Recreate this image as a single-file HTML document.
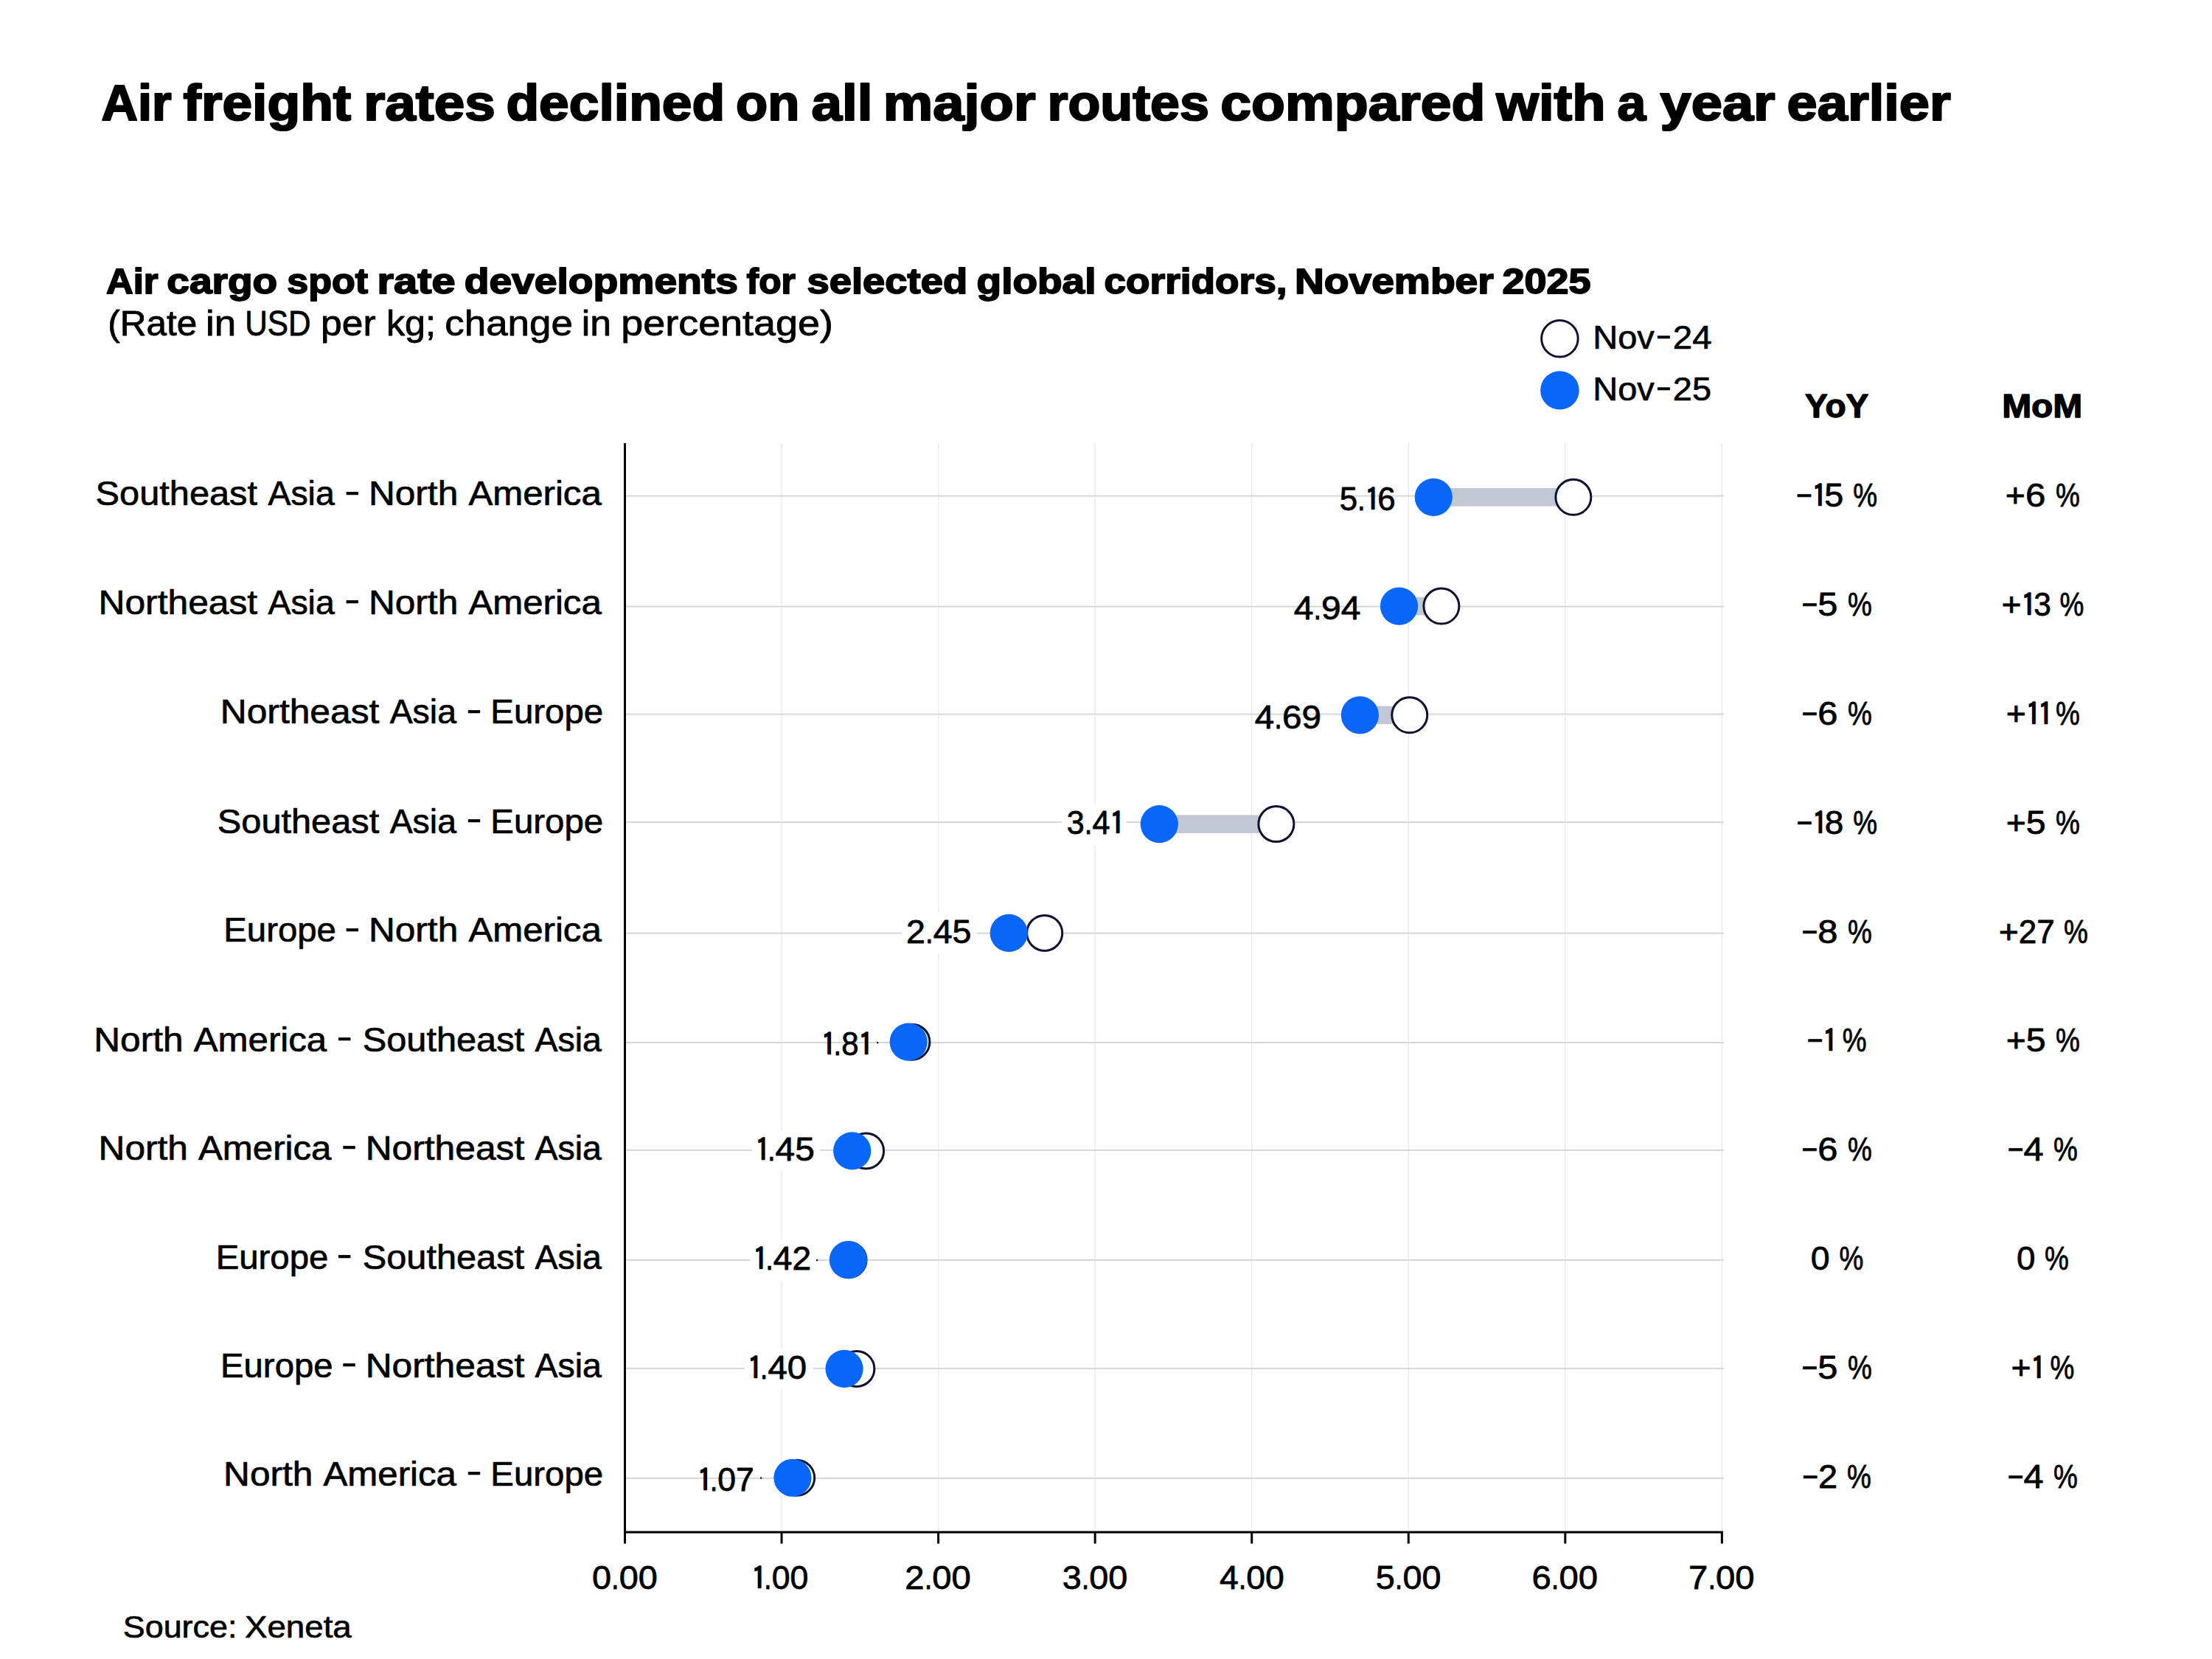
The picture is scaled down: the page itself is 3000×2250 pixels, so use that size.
<!DOCTYPE html>
<html lang="en">
<head>
<meta charset="utf-8">
<title>Air freight rates declined on all major routes compared with a year earlier</title>
<style>
html,body{margin:0;padding:0;background:#fff;}
body{width:3000px;height:2250px;overflow:hidden;}
svg{display:block;font-family:"Liberation Sans",Arial,sans-serif;}
</style>
</head>
<body>
<svg width="3000" height="2250" viewBox="0 0 3000 2250">
<rect width="3000" height="2250" fill="#fff"/>
<text y="162.70" font-size="68" font-weight="700" fill="#000" stroke="#000" stroke-width="2.2" stroke-linejoin="round"><tspan x="137.63" textLength="95.14" lengthAdjust="spacingAndGlyphs">Air</tspan> <tspan x="248.56" textLength="227.70" lengthAdjust="spacingAndGlyphs">freight</tspan> <tspan x="493.23" textLength="178.60" lengthAdjust="spacingAndGlyphs">rates</tspan> <tspan x="686.41" textLength="296.87" lengthAdjust="spacingAndGlyphs">declined</tspan> <tspan x="998.09" textLength="86.32" lengthAdjust="spacingAndGlyphs">on</tspan> <tspan x="1100.43" textLength="82.98" lengthAdjust="spacingAndGlyphs">all</tspan> <tspan x="1197.76" textLength="206.72" lengthAdjust="spacingAndGlyphs">major</tspan> <tspan x="1420.51" textLength="219.50" lengthAdjust="spacingAndGlyphs">routes</tspan> <tspan x="1655.35" textLength="359.05" lengthAdjust="spacingAndGlyphs">compared</tspan> <tspan x="2029.36" textLength="148.12" lengthAdjust="spacingAndGlyphs">with</tspan> <tspan x="2193.51" textLength="38.75" lengthAdjust="spacingAndGlyphs">a</tspan> <tspan x="2251.60" textLength="155.97" lengthAdjust="spacingAndGlyphs">year</tspan> <tspan x="2423.59" textLength="222.16" lengthAdjust="spacingAndGlyphs">earlier</tspan></text>
<text y="398.30" font-size="48.5" font-weight="700" fill="#000" stroke="#000" stroke-width="1.8" stroke-linejoin="round"><tspan x="144.11" textLength="70.51" lengthAdjust="spacingAndGlyphs">Air</tspan> <tspan x="226.38" textLength="149.82" lengthAdjust="spacingAndGlyphs">cargo</tspan> <tspan x="389.28" textLength="109.68" lengthAdjust="spacingAndGlyphs">spot</tspan> <tspan x="511.59" textLength="105.95" lengthAdjust="spacingAndGlyphs">rate</tspan> <tspan x="629.67" textLength="371.26" lengthAdjust="spacingAndGlyphs">developments</tspan> <tspan x="1012.62" textLength="66.18" lengthAdjust="spacingAndGlyphs">for</tspan> <tspan x="1094.50" textLength="217.68" lengthAdjust="spacingAndGlyphs">selected</tspan> <tspan x="1324.58" textLength="161.87" lengthAdjust="spacingAndGlyphs">global</tspan> <tspan x="1497.44" textLength="248.10" lengthAdjust="spacingAndGlyphs">corridors,</tspan> <tspan x="1755.95" textLength="269.83" lengthAdjust="spacingAndGlyphs">November</tspan> <tspan x="2037.62" textLength="119.82" lengthAdjust="spacingAndGlyphs">2025</tspan></text>
<text y="454.60" font-size="47.5" fill="#000" stroke="#000" stroke-width="0.8" stroke-linejoin="round"><tspan x="146.18" textLength="121.03" lengthAdjust="spacingAndGlyphs">(Rate</tspan> <tspan x="278.99" textLength="41.18" lengthAdjust="spacingAndGlyphs">in</tspan> <tspan x="332.36" textLength="89.21" lengthAdjust="spacingAndGlyphs">USD</tspan> <tspan x="435.08" textLength="74.47" lengthAdjust="spacingAndGlyphs">per</tspan> <tspan x="523.96" textLength="67.10" lengthAdjust="spacingAndGlyphs">kg;</tspan> <tspan x="603.25" textLength="173.70" lengthAdjust="spacingAndGlyphs">change</tspan> <tspan x="788.86" textLength="40.35" lengthAdjust="spacingAndGlyphs">in</tspan> <tspan x="842.33" textLength="287.56" lengthAdjust="spacingAndGlyphs">percentage)</tspan></text>
<circle cx="2115.4" cy="459.3" r="24.75" fill="#fff" stroke="#0e1230" stroke-width="3"/>
<circle cx="2115.4" cy="529.4" r="26.2" fill="#0866fb"/>
<text y="473.00" font-size="45" fill="#000" stroke="#000" stroke-width="0.7" stroke-linejoin="round"><tspan x="2160.38" textLength="83.47" lengthAdjust="spacingAndGlyphs">Nov</tspan><tspan x="2245.50" dy="-4.5" textLength="21.81" lengthAdjust="spacingAndGlyphs">-</tspan><tspan x="2268.82" dy="4.5" textLength="52.91" lengthAdjust="spacingAndGlyphs">24</tspan></text>
<text y="543.00" font-size="45" fill="#000" stroke="#000" stroke-width="0.7" stroke-linejoin="round"><tspan x="2160.38" textLength="83.47" lengthAdjust="spacingAndGlyphs">Nov</tspan><tspan x="2245.50" dy="-4.5" textLength="21.81" lengthAdjust="spacingAndGlyphs">-</tspan><tspan x="2268.85" dy="4.5" textLength="52.20" lengthAdjust="spacingAndGlyphs">25</tspan></text>
<text x="2448.13" y="565.70" font-size="43.5" font-weight="700" fill="#000" stroke="#000" stroke-width="1.3" stroke-linejoin="round" textLength="86.11" lengthAdjust="spacingAndGlyphs">YoY</text>
<text x="2715.15" y="565.70" font-size="43.5" font-weight="700" fill="#000" stroke="#000" stroke-width="1.3" stroke-linejoin="round" textLength="109.18" lengthAdjust="spacingAndGlyphs">MoM</text>
<rect x="1059.40" y="601" width="1.3" height="1477" fill="#e7e9eb"/>
<rect x="1271.95" y="601" width="1.3" height="1477" fill="#e7e9eb"/>
<rect x="1484.50" y="601" width="1.3" height="1477" fill="#e7e9eb"/>
<rect x="1697.05" y="601" width="1.3" height="1477" fill="#e7e9eb"/>
<rect x="1909.60" y="601" width="1.3" height="1477" fill="#e7e9eb"/>
<rect x="2122.15" y="601" width="1.3" height="1477" fill="#e7e9eb"/>
<rect x="2334.70" y="601" width="1.3" height="1477" fill="#e7e9eb"/>
<rect x="848" y="671.60" width="1490" height="2" fill="#d6d6d6"/>
<rect x="848" y="821.60" width="1490" height="2" fill="#d6d6d6"/>
<rect x="848" y="967.60" width="1490" height="2" fill="#d6d6d6"/>
<rect x="848" y="1114.10" width="1490" height="2" fill="#d6d6d6"/>
<rect x="848" y="1264.60" width="1490" height="2" fill="#d6d6d6"/>
<rect x="848" y="1413.00" width="1490" height="2" fill="#d6d6d6"/>
<rect x="848" y="1558.90" width="1490" height="2" fill="#d6d6d6"/>
<rect x="848" y="1707.90" width="1490" height="2" fill="#d6d6d6"/>
<rect x="848" y="1854.90" width="1490" height="2" fill="#d6d6d6"/>
<rect x="848" y="2003.80" width="1490" height="2" fill="#d6d6d6"/>
<rect x="1439.8" y="1091.1" width="87.9" height="55" fill="#fff"/>
<rect x="1222.9" y="1238.9" width="102.1" height="55" fill="#fff"/>
<rect x="1019.8" y="1533.7" width="92.5" height="55" fill="#fff"/>
<rect x="1017.0" y="1681.7" width="90.7" height="55" fill="#fff"/>
<rect x="1009.6" y="1829.5" width="92.7" height="55" fill="#fff"/>
<rect x="846" y="601" width="3" height="1492.5" fill="#000"/>
<rect x="846" y="2076.5" width="1491" height="3" fill="#000"/>
<rect x="1058.55" y="2078" width="3" height="15.5" fill="#000"/>
<rect x="1271.10" y="2078" width="3" height="15.5" fill="#000"/>
<rect x="1483.65" y="2078" width="3" height="15.5" fill="#000"/>
<rect x="1696.20" y="2078" width="3" height="15.5" fill="#000"/>
<rect x="1908.75" y="2078" width="3" height="15.5" fill="#000"/>
<rect x="2121.30" y="2078" width="3" height="15.5" fill="#000"/>
<rect x="2333.85" y="2078" width="3" height="15.5" fill="#000"/>
<rect x="1189" y="1413" width="2.2" height="2.2" fill="#111"/>
<rect x="1107" y="1708" width="2.2" height="2.2" fill="#111"/>
<rect x="1031" y="2003.5" width="2.2" height="2.2" fill="#111"/>
<text y="685.40" font-size="46" fill="#000" stroke="#000" stroke-width="0.7" stroke-linejoin="round"><tspan x="129.63" textLength="219.36" lengthAdjust="spacingAndGlyphs">Southeast</tspan> <tspan x="363.45" textLength="90.31" lengthAdjust="spacingAndGlyphs">Asia</tspan> <tspan x="467.37" dy="-3.6" textLength="21.06" lengthAdjust="spacingAndGlyphs">-</tspan> <tspan x="499.98" dy="3.6" textLength="121.26" lengthAdjust="spacingAndGlyphs">North</tspan> <tspan x="635.45" textLength="180.39" lengthAdjust="spacingAndGlyphs">America</tspan></text>
<rect x="1944.26" y="662.00" width="189.59" height="24.6" fill="#c2c8d3"/>
<circle cx="2133.85" cy="674.30" r="24.0" fill="#fff" stroke="#0e1230" stroke-width="3"/>
<circle cx="1944.26" cy="674.30" r="25.6" fill="#0866fb"/>
<text y="691.60" font-size="45" fill="#000" stroke="#000" stroke-width="0.8" stroke-linejoin="round"><tspan x="1816.73" textLength="24.36" lengthAdjust="spacingAndGlyphs">5</tspan><tspan x="1841.09" textLength="10.63" lengthAdjust="spacingAndGlyphs">.</tspan><tspan x="1851.11" dy="1" font-family="IPAGothic,'Liberation Sans',sans-serif" font-size="42.0" stroke-width="1.4">1</tspan><tspan x="1868.22" dy="-1" textLength="24.36" lengthAdjust="spacingAndGlyphs">6</tspan></text>
<text y="687.10" font-size="45" fill="#000" stroke="#000" stroke-width="0.8" stroke-linejoin="round"><tspan x="2435.95" textLength="21.81" lengthAdjust="spacingAndGlyphs">−</tspan><tspan x="2457.15" dy="1" font-family="IPAGothic,'Liberation Sans',sans-serif" font-size="42.0" stroke-width="1.4">1</tspan><tspan x="2474.26" dy="-1" textLength="38.93" lengthAdjust="spacingAndGlyphs">5 </tspan><tspan x="2513.19" textLength="32.81" lengthAdjust="spacingAndGlyphs">%</tspan></text>
<text y="687.10" font-size="45" fill="#000" stroke="#000" stroke-width="0.8" stroke-linejoin="round"><tspan x="2719.83" textLength="27.07" lengthAdjust="spacingAndGlyphs">+</tspan><tspan x="2746.90" textLength="40.99" lengthAdjust="spacingAndGlyphs">6 </tspan><tspan x="2787.89" textLength="32.81" lengthAdjust="spacingAndGlyphs">%</tspan></text>
<text y="832.60" font-size="46" fill="#000" stroke="#000" stroke-width="0.7" stroke-linejoin="round"><tspan x="133.56" textLength="215.62" lengthAdjust="spacingAndGlyphs">Northeast</tspan> <tspan x="363.45" textLength="90.31" lengthAdjust="spacingAndGlyphs">Asia</tspan> <tspan x="467.37" dy="-3.6" textLength="21.06" lengthAdjust="spacingAndGlyphs">-</tspan> <tspan x="499.98" dy="3.6" textLength="121.26" lengthAdjust="spacingAndGlyphs">North</tspan> <tspan x="635.45" textLength="180.39" lengthAdjust="spacingAndGlyphs">America</tspan></text>
<rect x="1897.50" y="809.77" width="57.39" height="24.6" fill="#c2c8d3"/>
<circle cx="1954.89" cy="822.07" r="24.0" fill="#fff" stroke="#0e1230" stroke-width="3"/>
<circle cx="1897.50" cy="822.07" r="25.6" fill="#0866fb"/>
<text y="839.90" font-size="45" fill="#000" stroke="#000" stroke-width="0.8" stroke-linejoin="round"><tspan x="1754.75" textLength="26.67" lengthAdjust="spacingAndGlyphs">4</tspan><tspan x="1781.42" textLength="10.63" lengthAdjust="spacingAndGlyphs">.</tspan><tspan x="1792.05" textLength="53.34" lengthAdjust="spacingAndGlyphs">94</tspan></text>
<text y="834.96" font-size="45" fill="#000" stroke="#000" stroke-width="0.8" stroke-linejoin="round"><tspan x="2443.45" textLength="21.81" lengthAdjust="spacingAndGlyphs">−</tspan><tspan x="2465.26" textLength="40.63" lengthAdjust="spacingAndGlyphs">5 </tspan><tspan x="2505.89" textLength="32.81" lengthAdjust="spacingAndGlyphs">%</tspan></text>
<text y="834.96" font-size="45" fill="#000" stroke="#000" stroke-width="0.8" stroke-linejoin="round"><tspan x="2714.63" textLength="27.07" lengthAdjust="spacingAndGlyphs">+</tspan><tspan x="2741.09" dy="1" font-family="IPAGothic,'Liberation Sans',sans-serif" font-size="42.0" stroke-width="1.4">1</tspan><tspan x="2758.20" dy="-1" textLength="35.29" lengthAdjust="spacingAndGlyphs">3 </tspan><tspan x="2793.49" textLength="32.81" lengthAdjust="spacingAndGlyphs">%</tspan></text>
<text y="981.40" font-size="46" fill="#000" stroke="#000" stroke-width="0.7" stroke-linejoin="round"><tspan x="298.76" textLength="215.62" lengthAdjust="spacingAndGlyphs">Northeast</tspan> <tspan x="528.65" textLength="90.31" lengthAdjust="spacingAndGlyphs">Asia</tspan> <tspan x="632.57" dy="-3.6" textLength="21.06" lengthAdjust="spacingAndGlyphs">-</tspan> <tspan x="665.35" dy="3.6" textLength="152.72" lengthAdjust="spacingAndGlyphs">Europe</tspan></text>
<rect x="1844.36" y="957.54" width="67.38" height="24.6" fill="#c2c8d3"/>
<circle cx="1911.74" cy="969.84" r="24.0" fill="#fff" stroke="#0e1230" stroke-width="3"/>
<circle cx="1844.36" cy="969.84" r="25.6" fill="#0866fb"/>
<text y="987.50" font-size="45" fill="#000" stroke="#000" stroke-width="0.8" stroke-linejoin="round"><tspan x="1701.86" textLength="26.48" lengthAdjust="spacingAndGlyphs">4</tspan><tspan x="1728.34" textLength="10.63" lengthAdjust="spacingAndGlyphs">.</tspan><tspan x="1738.97" textLength="52.96" lengthAdjust="spacingAndGlyphs">69</tspan></text>
<text y="982.82" font-size="45" fill="#000" stroke="#000" stroke-width="0.8" stroke-linejoin="round"><tspan x="2443.45" textLength="21.81" lengthAdjust="spacingAndGlyphs">−</tspan><tspan x="2465.26" textLength="40.73" lengthAdjust="spacingAndGlyphs">6 </tspan><tspan x="2505.99" textLength="32.81" lengthAdjust="spacingAndGlyphs">%</tspan></text>
<text y="982.82" font-size="45" fill="#000" stroke="#000" stroke-width="0.8" stroke-linejoin="round"><tspan x="2720.73" textLength="27.07" lengthAdjust="spacingAndGlyphs">+</tspan><tspan x="2747.19" dy="1" font-family="IPAGothic,'Liberation Sans',sans-serif" font-size="42.0" stroke-width="1.4">1</tspan><tspan x="2763.69" font-family="IPAGothic,'Liberation Sans',sans-serif" font-size="42.0" stroke-width="1.4">1</tspan><tspan x="2780.80" dy="-1" textLength="7.29" lengthAdjust="spacingAndGlyphs"> </tspan><tspan x="2788.09" textLength="32.81" lengthAdjust="spacingAndGlyphs">%</tspan></text>
<text y="1129.60" font-size="46" fill="#000" stroke="#000" stroke-width="0.7" stroke-linejoin="round"><tspan x="294.83" textLength="219.36" lengthAdjust="spacingAndGlyphs">Southeast</tspan> <tspan x="528.65" textLength="90.31" lengthAdjust="spacingAndGlyphs">Asia</tspan> <tspan x="632.57" dy="-3.6" textLength="21.06" lengthAdjust="spacingAndGlyphs">-</tspan> <tspan x="665.35" dy="3.6" textLength="152.72" lengthAdjust="spacingAndGlyphs">Europe</tspan></text>
<rect x="1572.30" y="1105.31" width="158.56" height="24.6" fill="#c2c8d3"/>
<circle cx="1730.86" cy="1117.61" r="24.0" fill="#fff" stroke="#0e1230" stroke-width="3"/>
<circle cx="1572.30" cy="1117.61" r="25.6" fill="#0866fb"/>
<text y="1131.10" font-size="45" fill="#000" stroke="#000" stroke-width="0.8" stroke-linejoin="round"><tspan x="1446.85" textLength="24.00" lengthAdjust="spacingAndGlyphs">3</tspan><tspan x="1470.85" textLength="10.63" lengthAdjust="spacingAndGlyphs">.</tspan><tspan x="1481.48" textLength="24.00" lengthAdjust="spacingAndGlyphs">4</tspan><tspan x="1504.88" dy="1" font-family="IPAGothic,'Liberation Sans',sans-serif" font-size="42.0" stroke-width="1.4">1</tspan></text>
<text y="1130.68" font-size="45" fill="#000" stroke="#000" stroke-width="0.8" stroke-linejoin="round"><tspan x="2436.55" textLength="21.81" lengthAdjust="spacingAndGlyphs">−</tspan><tspan x="2457.75" dy="1" font-family="IPAGothic,'Liberation Sans',sans-serif" font-size="42.0" stroke-width="1.4">1</tspan><tspan x="2474.86" dy="-1" textLength="38.33" lengthAdjust="spacingAndGlyphs">8 </tspan><tspan x="2513.19" textLength="32.81" lengthAdjust="spacingAndGlyphs">%</tspan></text>
<text y="1130.68" font-size="45" fill="#000" stroke="#000" stroke-width="0.8" stroke-linejoin="round"><tspan x="2720.73" textLength="27.07" lengthAdjust="spacingAndGlyphs">+</tspan><tspan x="2747.80" textLength="40.29" lengthAdjust="spacingAndGlyphs">5 </tspan><tspan x="2788.09" textLength="32.81" lengthAdjust="spacingAndGlyphs">%</tspan></text>
<text y="1277.40" font-size="46" fill="#000" stroke="#000" stroke-width="0.7" stroke-linejoin="round"><tspan x="303.25" textLength="152.72" lengthAdjust="spacingAndGlyphs">Europe</tspan> <tspan x="467.37" dy="-3.6" textLength="21.06" lengthAdjust="spacingAndGlyphs">-</tspan> <tspan x="499.98" dy="3.6" textLength="121.26" lengthAdjust="spacingAndGlyphs">North</tspan> <tspan x="635.45" textLength="180.39" lengthAdjust="spacingAndGlyphs">America</tspan></text>
<circle cx="1416.71" cy="1265.38" r="24.0" fill="#fff" stroke="#0e1230" stroke-width="3"/>
<circle cx="1368.25" cy="1265.38" r="25.6" fill="#0866fb"/>
<text y="1278.90" font-size="45" fill="#000" stroke="#000" stroke-width="0.8" stroke-linejoin="round"><tspan x="1229.12" textLength="25.92" lengthAdjust="spacingAndGlyphs">2</tspan><tspan x="1255.03" textLength="10.63" lengthAdjust="spacingAndGlyphs">.</tspan><tspan x="1265.66" textLength="51.83" lengthAdjust="spacingAndGlyphs">45</tspan></text>
<text y="1278.54" font-size="45" fill="#000" stroke="#000" stroke-width="0.8" stroke-linejoin="round"><tspan x="2443.45" textLength="21.81" lengthAdjust="spacingAndGlyphs">−</tspan><tspan x="2465.26" textLength="40.73" lengthAdjust="spacingAndGlyphs">8 </tspan><tspan x="2505.99" textLength="32.81" lengthAdjust="spacingAndGlyphs">%</tspan></text>
<text y="1278.54" font-size="45" fill="#000" stroke="#000" stroke-width="0.8" stroke-linejoin="round"><tspan x="2710.63" textLength="27.07" lengthAdjust="spacingAndGlyphs">+</tspan><tspan x="2737.70" textLength="61.19" lengthAdjust="spacingAndGlyphs">27 </tspan><tspan x="2798.89" textLength="32.81" lengthAdjust="spacingAndGlyphs">%</tspan></text>
<text y="1425.50" font-size="46" fill="#000" stroke="#000" stroke-width="0.7" stroke-linejoin="round"><tspan x="127.28" textLength="121.26" lengthAdjust="spacingAndGlyphs">North</tspan> <tspan x="262.75" textLength="180.39" lengthAdjust="spacingAndGlyphs">America</tspan> <tspan x="456.77" dy="-3.6" textLength="21.06" lengthAdjust="spacingAndGlyphs">-</tspan> <tspan x="491.73" dy="3.6" textLength="219.36" lengthAdjust="spacingAndGlyphs">Southeast</tspan> <tspan x="725.55" textLength="90.31" lengthAdjust="spacingAndGlyphs">Asia</tspan></text>
<circle cx="1236.89" cy="1413.15" r="24.0" fill="#fff" stroke="#0e1230" stroke-width="3"/>
<circle cx="1232.22" cy="1413.15" r="25.6" fill="#0866fb"/>
<text y="1430.80" font-size="45" fill="#000" stroke="#000" stroke-width="0.8" stroke-linejoin="round"><tspan x="1113.41" dy="1" font-family="IPAGothic,'Liberation Sans',sans-serif" font-size="42.0" stroke-width="1.4">1</tspan><tspan x="1130.52" dy="-1" textLength="10.63" lengthAdjust="spacingAndGlyphs">.</tspan><tspan x="1141.14" textLength="23.34" lengthAdjust="spacingAndGlyphs">8</tspan><tspan x="1163.88" dy="1" font-family="IPAGothic,'Liberation Sans',sans-serif" font-size="42.0" stroke-width="1.4">1</tspan></text>
<text y="1426.40" font-size="45" fill="#000" stroke="#000" stroke-width="0.8" stroke-linejoin="round"><tspan x="2450.65" textLength="21.81" lengthAdjust="spacingAndGlyphs">−</tspan><tspan x="2471.85" dy="1" font-family="IPAGothic,'Liberation Sans',sans-serif" font-size="42.0" stroke-width="1.4">1</tspan><tspan x="2488.96" dy="-1" textLength="9.73" lengthAdjust="spacingAndGlyphs"> </tspan><tspan x="2498.69" textLength="32.81" lengthAdjust="spacingAndGlyphs">%</tspan></text>
<text y="1426.40" font-size="45" fill="#000" stroke="#000" stroke-width="0.8" stroke-linejoin="round"><tspan x="2720.73" textLength="27.07" lengthAdjust="spacingAndGlyphs">+</tspan><tspan x="2747.80" textLength="40.29" lengthAdjust="spacingAndGlyphs">5 </tspan><tspan x="2788.09" textLength="32.81" lengthAdjust="spacingAndGlyphs">%</tspan></text>
<text y="1572.60" font-size="46" fill="#000" stroke="#000" stroke-width="0.7" stroke-linejoin="round"><tspan x="133.58" textLength="121.26" lengthAdjust="spacingAndGlyphs">North</tspan> <tspan x="269.05" textLength="180.39" lengthAdjust="spacingAndGlyphs">America</tspan> <tspan x="463.07" dy="-3.6" textLength="21.06" lengthAdjust="spacingAndGlyphs">-</tspan> <tspan x="495.66" dy="3.6" textLength="215.62" lengthAdjust="spacingAndGlyphs">Northeast</tspan> <tspan x="725.55" textLength="90.31" lengthAdjust="spacingAndGlyphs">Asia</tspan></text>
<circle cx="1174.61" cy="1560.92" r="24.0" fill="#fff" stroke="#0e1230" stroke-width="3"/>
<circle cx="1155.70" cy="1560.92" r="25.6" fill="#0866fb"/>
<text y="1573.70" font-size="45" fill="#000" stroke="#000" stroke-width="0.8" stroke-linejoin="round"><tspan x="1023.91" dy="1" font-family="IPAGothic,'Liberation Sans',sans-serif" font-size="42.0" stroke-width="1.4">1</tspan><tspan x="1041.02" dy="-1" textLength="10.63" lengthAdjust="spacingAndGlyphs">.</tspan><tspan x="1051.64" textLength="53.20" lengthAdjust="spacingAndGlyphs">45</tspan></text>
<text y="1574.26" font-size="45" fill="#000" stroke="#000" stroke-width="0.8" stroke-linejoin="round"><tspan x="2443.45" textLength="21.81" lengthAdjust="spacingAndGlyphs">−</tspan><tspan x="2465.26" textLength="40.73" lengthAdjust="spacingAndGlyphs">6 </tspan><tspan x="2505.99" textLength="32.81" lengthAdjust="spacingAndGlyphs">%</tspan></text>
<text y="1574.26" font-size="45" fill="#000" stroke="#000" stroke-width="0.8" stroke-linejoin="round"><tspan x="2722.65" textLength="21.81" lengthAdjust="spacingAndGlyphs">−</tspan><tspan x="2744.46" textLength="40.63" lengthAdjust="spacingAndGlyphs">4 </tspan><tspan x="2785.09" textLength="32.81" lengthAdjust="spacingAndGlyphs">%</tspan></text>
<text y="1720.50" font-size="46" fill="#000" stroke="#000" stroke-width="0.7" stroke-linejoin="round"><tspan x="292.65" textLength="152.72" lengthAdjust="spacingAndGlyphs">Europe</tspan> <tspan x="456.77" dy="-3.6" textLength="21.06" lengthAdjust="spacingAndGlyphs">-</tspan> <tspan x="491.73" dy="3.6" textLength="219.36" lengthAdjust="spacingAndGlyphs">Southeast</tspan> <tspan x="725.55" textLength="90.31" lengthAdjust="spacingAndGlyphs">Asia</tspan></text>
<circle cx="1151.02" cy="1708.69" r="24.0" fill="#fff" stroke="#0e1230" stroke-width="3"/>
<circle cx="1150.38" cy="1708.69" r="25.6" fill="#0866fb"/>
<text y="1721.70" font-size="45" fill="#000" stroke="#000" stroke-width="0.8" stroke-linejoin="round"><tspan x="1021.11" dy="1" font-family="IPAGothic,'Liberation Sans',sans-serif" font-size="42.0" stroke-width="1.4">1</tspan><tspan x="1038.22" dy="-1" textLength="10.63" lengthAdjust="spacingAndGlyphs">.</tspan><tspan x="1048.84" textLength="51.33" lengthAdjust="spacingAndGlyphs">42</tspan></text>
<text y="1722.12" font-size="45" fill="#000" stroke="#000" stroke-width="0.8" stroke-linejoin="round"><tspan x="2455.65" textLength="38.74" lengthAdjust="spacingAndGlyphs">0 </tspan><tspan x="2494.39" textLength="32.81" lengthAdjust="spacingAndGlyphs">%</tspan></text>
<text y="1722.12" font-size="45" fill="#000" stroke="#000" stroke-width="0.8" stroke-linejoin="round"><tspan x="2734.88" textLength="38.01" lengthAdjust="spacingAndGlyphs">0 </tspan><tspan x="2772.89" textLength="32.81" lengthAdjust="spacingAndGlyphs">%</tspan></text>
<text y="1867.50" font-size="46" fill="#000" stroke="#000" stroke-width="0.7" stroke-linejoin="round"><tspan x="298.95" textLength="152.72" lengthAdjust="spacingAndGlyphs">Europe</tspan> <tspan x="463.07" dy="-3.6" textLength="21.06" lengthAdjust="spacingAndGlyphs">-</tspan> <tspan x="495.66" dy="3.6" textLength="215.62" lengthAdjust="spacingAndGlyphs">Northeast</tspan> <tspan x="725.55" textLength="90.31" lengthAdjust="spacingAndGlyphs">Asia</tspan></text>
<circle cx="1161.86" cy="1856.46" r="24.0" fill="#fff" stroke="#0e1230" stroke-width="3"/>
<circle cx="1145.07" cy="1856.46" r="25.6" fill="#0866fb"/>
<text y="1869.50" font-size="45" fill="#000" stroke="#000" stroke-width="0.8" stroke-linejoin="round"><tspan x="1013.71" dy="1" font-family="IPAGothic,'Liberation Sans',sans-serif" font-size="42.0" stroke-width="1.4">1</tspan><tspan x="1030.82" dy="-1" textLength="10.63" lengthAdjust="spacingAndGlyphs">.</tspan><tspan x="1041.44" textLength="52.64" lengthAdjust="spacingAndGlyphs">40</tspan></text>
<text y="1869.98" font-size="45" fill="#000" stroke="#000" stroke-width="0.8" stroke-linejoin="round"><tspan x="2443.45" textLength="21.81" lengthAdjust="spacingAndGlyphs">−</tspan><tspan x="2465.26" textLength="40.63" lengthAdjust="spacingAndGlyphs">5 </tspan><tspan x="2505.89" textLength="32.81" lengthAdjust="spacingAndGlyphs">%</tspan></text>
<text y="1869.98" font-size="45" fill="#000" stroke="#000" stroke-width="0.8" stroke-linejoin="round"><tspan x="2727.53" textLength="27.07" lengthAdjust="spacingAndGlyphs">+</tspan><tspan x="2753.99" dy="1" font-family="IPAGothic,'Liberation Sans',sans-serif" font-size="42.0" stroke-width="1.4">1</tspan><tspan x="2771.10" dy="-1" textLength="9.49" lengthAdjust="spacingAndGlyphs"> </tspan><tspan x="2780.59" textLength="32.81" lengthAdjust="spacingAndGlyphs">%</tspan></text>
<text y="2015.00" font-size="46" fill="#000" stroke="#000" stroke-width="0.7" stroke-linejoin="round"><tspan x="303.08" textLength="121.26" lengthAdjust="spacingAndGlyphs">North</tspan> <tspan x="438.55" textLength="180.39" lengthAdjust="spacingAndGlyphs">America</tspan> <tspan x="632.57" dy="-3.6" textLength="21.06" lengthAdjust="spacingAndGlyphs">-</tspan> <tspan x="665.35" dy="3.6" textLength="152.72" lengthAdjust="spacingAndGlyphs">Europe</tspan></text>
<circle cx="1080.67" cy="2004.23" r="24.0" fill="#fff" stroke="#0e1230" stroke-width="3"/>
<circle cx="1074.93" cy="2004.23" r="25.6" fill="#0866fb"/>
<text y="2021.90" font-size="45" fill="#000" stroke="#000" stroke-width="0.8" stroke-linejoin="round"><tspan x="945.61" dy="1" font-family="IPAGothic,'Liberation Sans',sans-serif" font-size="42.0" stroke-width="1.4">1</tspan><tspan x="962.72" dy="-1" textLength="10.63" lengthAdjust="spacingAndGlyphs">.</tspan><tspan x="973.34" textLength="49.46" lengthAdjust="spacingAndGlyphs">07</tspan></text>
<text y="2017.84" font-size="45" fill="#000" stroke="#000" stroke-width="0.8" stroke-linejoin="round"><tspan x="2444.15" textLength="21.81" lengthAdjust="spacingAndGlyphs">−</tspan><tspan x="2465.96" textLength="39.13" lengthAdjust="spacingAndGlyphs">2 </tspan><tspan x="2505.09" textLength="32.81" lengthAdjust="spacingAndGlyphs">%</tspan></text>
<text y="2017.84" font-size="45" fill="#000" stroke="#000" stroke-width="0.8" stroke-linejoin="round"><tspan x="2722.65" textLength="21.81" lengthAdjust="spacingAndGlyphs">−</tspan><tspan x="2744.46" textLength="40.63" lengthAdjust="spacingAndGlyphs">4 </tspan><tspan x="2785.09" textLength="32.81" lengthAdjust="spacingAndGlyphs">%</tspan></text>
<text y="2155.00" font-size="45" fill="#000" stroke="#000" stroke-width="0.8" stroke-linejoin="round"><tspan x="803.04" textLength="26.00" lengthAdjust="spacingAndGlyphs">0</tspan><tspan x="829.04" textLength="10.63" lengthAdjust="spacingAndGlyphs">.</tspan><tspan x="839.67" textLength="52.00" lengthAdjust="spacingAndGlyphs">00</tspan></text>
<text y="2155.00" font-size="45" fill="#000" stroke="#000" stroke-width="0.8" stroke-linejoin="round"><tspan x="1018.96" dy="1" font-family="IPAGothic,'Liberation Sans',sans-serif" font-size="42.0" stroke-width="1.4">1</tspan><tspan x="1036.07" dy="-1" textLength="10.63" lengthAdjust="spacingAndGlyphs">.</tspan><tspan x="1046.69" textLength="49.57" lengthAdjust="spacingAndGlyphs">00</tspan></text>
<text y="2155.00" font-size="45" fill="#000" stroke="#000" stroke-width="0.8" stroke-linejoin="round"><tspan x="1227.39" textLength="26.25" lengthAdjust="spacingAndGlyphs">2</tspan><tspan x="1253.64" textLength="10.63" lengthAdjust="spacingAndGlyphs">.</tspan><tspan x="1264.27" textLength="52.51" lengthAdjust="spacingAndGlyphs">00</tspan></text>
<text y="2155.00" font-size="45" fill="#000" stroke="#000" stroke-width="0.8" stroke-linejoin="round"><tspan x="1440.69" textLength="26.00" lengthAdjust="spacingAndGlyphs">3</tspan><tspan x="1466.69" textLength="10.63" lengthAdjust="spacingAndGlyphs">.</tspan><tspan x="1477.32" textLength="52.00" lengthAdjust="spacingAndGlyphs">00</tspan></text>
<text y="2155.00" font-size="45" fill="#000" stroke="#000" stroke-width="0.8" stroke-linejoin="round"><tspan x="1653.98" textLength="25.75" lengthAdjust="spacingAndGlyphs">4</tspan><tspan x="1679.73" textLength="10.63" lengthAdjust="spacingAndGlyphs">.</tspan><tspan x="1690.35" textLength="51.50" lengthAdjust="spacingAndGlyphs">00</tspan></text>
<text y="2155.00" font-size="45" fill="#000" stroke="#000" stroke-width="0.8" stroke-linejoin="round"><tspan x="1865.79" textLength="26.00" lengthAdjust="spacingAndGlyphs">5</tspan><tspan x="1891.79" textLength="10.63" lengthAdjust="spacingAndGlyphs">.</tspan><tspan x="1902.42" textLength="52.00" lengthAdjust="spacingAndGlyphs">00</tspan></text>
<text y="2155.00" font-size="45" fill="#000" stroke="#000" stroke-width="0.8" stroke-linejoin="round"><tspan x="2077.59" textLength="26.25" lengthAdjust="spacingAndGlyphs">6</tspan><tspan x="2103.84" textLength="10.63" lengthAdjust="spacingAndGlyphs">.</tspan><tspan x="2114.47" textLength="52.51" lengthAdjust="spacingAndGlyphs">00</tspan></text>
<text y="2155.00" font-size="45" fill="#000" stroke="#000" stroke-width="0.8" stroke-linejoin="round"><tspan x="2290.14" textLength="26.25" lengthAdjust="spacingAndGlyphs">7</tspan><tspan x="2316.39" textLength="10.63" lengthAdjust="spacingAndGlyphs">.</tspan><tspan x="2327.02" textLength="52.51" lengthAdjust="spacingAndGlyphs">00</tspan></text>
<text y="2221.20" font-size="42.5" fill="#000" stroke="#000" stroke-width="0.7" stroke-linejoin="round"><tspan x="166.75" textLength="154.66" lengthAdjust="spacingAndGlyphs">Source:</tspan> <tspan x="331.94" textLength="144.82" lengthAdjust="spacingAndGlyphs">Xeneta</tspan></text>
</svg>
</body>
</html>
